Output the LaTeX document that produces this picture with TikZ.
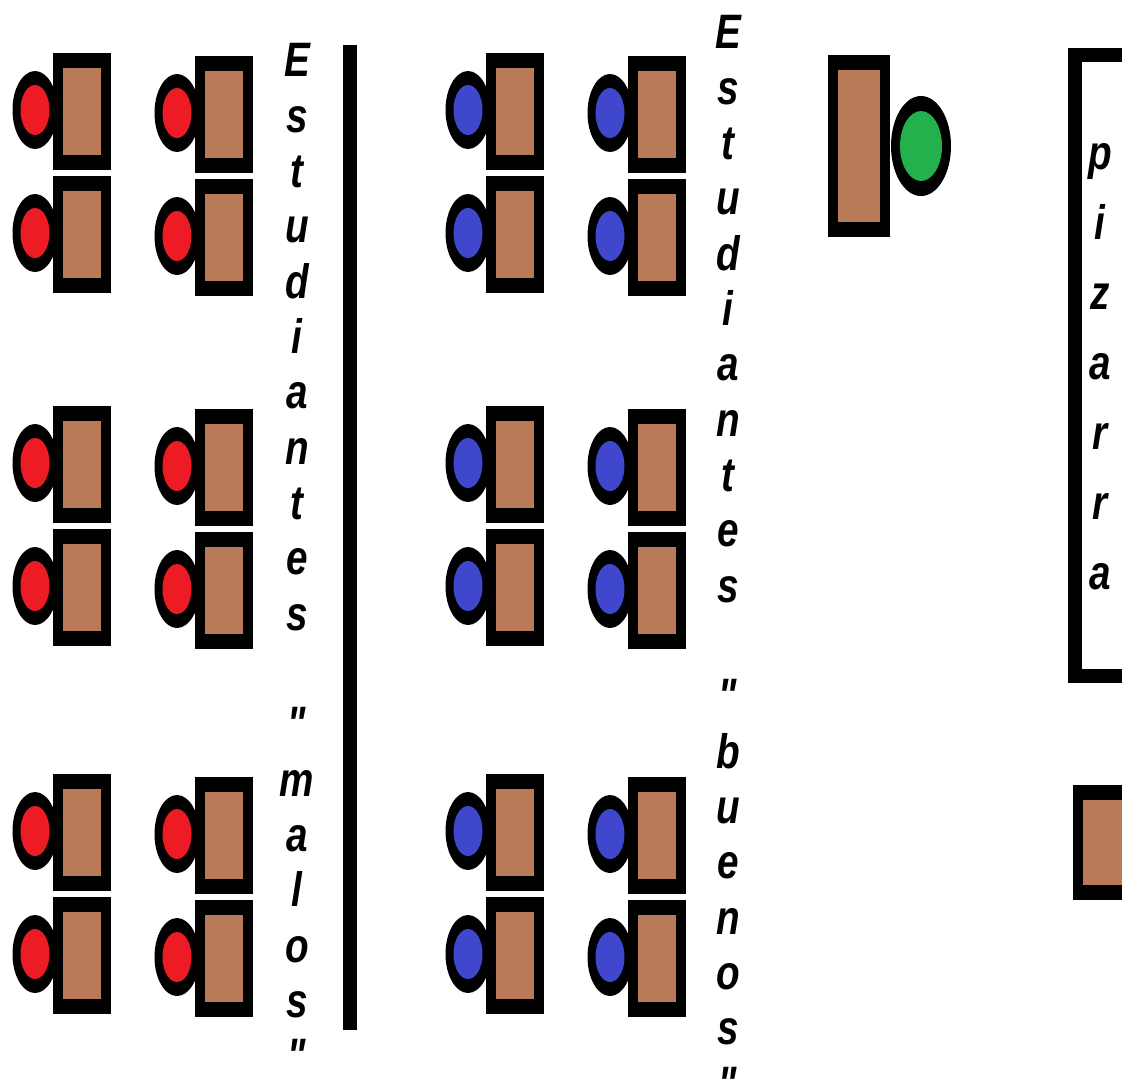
\documentclass[tikz,border=0pt]{standalone}
\usepackage{fontspec}
\setmainfont{Liberation Sans}
\usetikzlibrary{positioning}
\definecolor{deskbrown}{RGB}{185,122,87}
\definecolor{pupilred}{RGB}{237,28,36}
\definecolor{pupilblue}{RGB}{63,72,204}
\definecolor{teachergreen}{RGB}{34,177,76}
\providecommand{\qm}{\textquotedbl}

\tikzset{
  seat/.pic={
    \fill[black] (-18,57) ellipse [x radius=22.5, y radius=39];
    \fill[#1] (-18,57) ellipse [x radius=14.5, y radius=25];
    \fill[black] (0,0) rectangle (58,117);
    \fill[deskbrown] (10,15) rectangle (48,102);
  },
  letters/.style={
    inner sep=0pt,
    align=center,
    yscale=1.25,
    transform shape,
    font=\fontsize{22}{25.2}\selectfont\bfseries\itshape
  }
}

\begin{document}
\begin{tikzpicture}[x=0.02cm, y=-0.02cm]
  \useasboundingbox (0,0) rectangle (1122,1080);
  \clip (0,0) rectangle (1122,1080);
  % students, two by two
  \foreach \gx/\col in {53/pupilred, 486/pupilblue}
    \foreach \gy in {53,406,774}
    {
      \pic at (\gx,\gy) {seat=\col};
      \pic at (\gx,\gy+123) {seat=\col};
      \pic at (\gx+142,\gy+3) {seat=\col};
      \pic at (\gx+142,\gy+126) {seat=\col};
    }
  % dividing line
  \fill (343,45) rectangle (357,1030);
  % teacher
  \fill (921,146) ellipse [x radius=30, y radius=50];
  \fill[teachergreen] (921,146) ellipse [x radius=21, y radius=35];
  \fill (828,55) rectangle (890,237);
  \fill[deskbrown] (838,70) rectangle (880,222);
  % board
  \draw[line width=8pt] (1075,55) rectangle (1200,676);
  % desk on the right
  \fill (1073,785) rectangle (1200,900);
  \fill[deskbrown] (1083,800) rectangle (1200,885);
  % labels
  \node[letters, anchor=north] (malos) at (297,43)
    {E\\s\\t\\u\\d\\i\\a\\n\\t\\e\\s\\\mbox{}\\\qm\\m\\a\\l\\o\\s\\\qm};
  \node[letters, anchor=north] (buenos) at (728,15)
    {E\\s\\t\\u\\d\\i\\a\\n\\t\\e\\s\\\mbox{}\\\qm\\b\\u\\e\\n\\o\\s\\\qm};
  \node[letters, anchor=north, font=\fontsize{22}{31.9}\selectfont\bfseries\itshape]
    (pizarra) at (1100,143) {p\\i\\z\\a\\r\\r\\a};
\end{tikzpicture}
\end{document}
